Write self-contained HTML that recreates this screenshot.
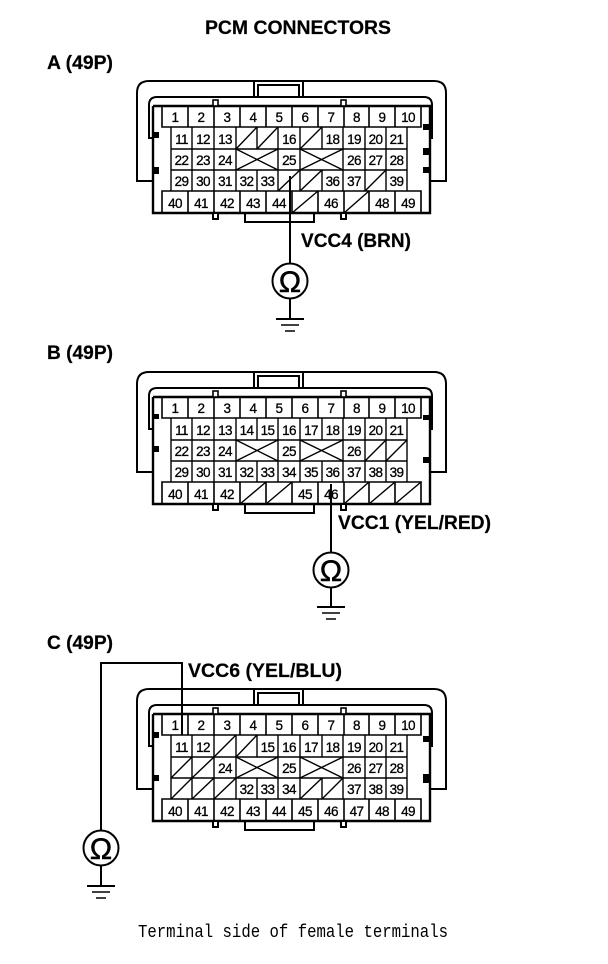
<!DOCTYPE html>
<html><head><meta charset="utf-8"><style>
html,body{margin:0;padding:0;background:#fff}
svg{display:block}
text{font-family:"Liberation Sans",sans-serif;fill:#000}
.n{transform:translateY(1px)}
.n text{font-size:13.5px;letter-spacing:-.6px;text-anchor:middle;stroke:#000;stroke-width:.3}
.l{font-weight:bold;font-size:19px;stroke:#000;stroke-width:.2}
.o{font-size:30px;text-anchor:middle;stroke:#000;stroke-width:.5}
</style></head><body>
<svg width="608" height="964" viewBox="0 0 608 964" xmlns="http://www.w3.org/2000/svg">
<defs>
<g id="shell" fill="none" stroke="#000">
<path stroke-width="2" d="M152 181H137V93Q137 81 149 81H434Q446 81 446 93V181H430"/>
<path stroke-width="2" d="M153 138H149V105Q149 97 157 97H424Q432 97 432 105V138H429"/>
<path stroke-width="2" d="M254 96V81H303V96M258 96V85H299V96"/>
<path stroke-width="2.4" d="M153 106V213H430V106H153"/>
<path stroke-width="2" d="M245 213V222H314V213"/>
<path stroke-width="1.6" d="M162 106V127H421V106M188 106V127M214 106V127M240 106V127M266 106V127M292 106V127M318 106V127M344 106V127M369 106V127M395 106V127"/>
<path stroke-width="1.6" d="M162 213V191H421V213M188 191V213M214 191V213M240 191V213M266 191V213M292 191V213M318 191V213M344 191V213M369 191V213M395 191V213"/>
<path stroke-width="1.4" d="M171 127V191M407 127V191M171 149H407M171 170H407M192 127V191M214 127V191M236 127V191M257 127V149M257 170V191M278 127V191M300 127V191M322 127V149M322 170V191M343 127V191M365 127V191M386 127V191"/>
<path stroke-width="1.4" d="M236 149L278 170M236 170L278 149M300 149L343 170M300 170L343 149"/>
<rect x="213" y="100" width="5" height="6" stroke-width="1.6" fill="#fff"/>
<rect x="341" y="100" width="5" height="6" stroke-width="1.6" fill="#fff"/>
<rect x="213" y="213" width="5" height="6" stroke-width="2" fill="#fff"/>
<rect x="341" y="213" width="5" height="6" stroke-width="2" fill="#fff"/>
</g>
<g id="gnd" fill="none" stroke="#000">
<path stroke-width="2" d="M-14 0H14"/>
<path stroke-width="1.5" d="M-9 6H9M-5 12H5"/>
</g>
</defs>

<text class="l" x="205" y="34" textLength="186" lengthAdjust="spacingAndGlyphs">PCM CONNECTORS</text>
<text class="l" x="47" y="69" textLength="66" lengthAdjust="spacingAndGlyphs">A (49P)</text>
<text class="l" x="47" y="359" textLength="66" lengthAdjust="spacingAndGlyphs">B (49P)</text>
<text class="l" x="47" y="649" textLength="66" lengthAdjust="spacingAndGlyphs">C (49P)</text>
<text class="l" x="301" y="247" textLength="110" lengthAdjust="spacingAndGlyphs">VCC4 (BRN)</text>
<text class="l" x="338" y="529" textLength="153" lengthAdjust="spacingAndGlyphs">VCC1 (YEL/RED)</text>
<text class="l" x="188" y="677" textLength="154" lengthAdjust="spacingAndGlyphs">VCC6 (YEL/BLU)</text>
<text x="138" y="937" textLength="310" lengthAdjust="spacingAndGlyphs" style="font-family:'Liberation Mono',monospace;font-size:18px">Terminal side of female terminals</text>

<!-- A -->
<use href="#shell"/>
<g fill="#000">
<rect x="153" y="132" width="6" height="6"/><rect x="153" y="167" width="6" height="7"/>
<rect x="423" y="124" width="6" height="6"/><rect x="423" y="148" width="6" height="7"/><rect x="423" y="167" width="6" height="6"/>
</g>
<path fill="none" stroke="#000" stroke-width="1.4" d="M236 149L257 127M257 149L278 127M300 149L322 127M278 191L300 170M300 191L322 170M365 191L386 170M292 213L318 191M344 213L369 191"/>
<g class="n">
<text x="175" y="121">1</text><text x="201" y="121">2</text><text x="227" y="121">3</text><text x="253" y="121">4</text><text x="279" y="121">5</text><text x="305" y="121">6</text><text x="331" y="121">7</text><text x="356.5" y="121">8</text><text x="382" y="121">9</text><text x="408" y="121">10</text>
<text x="181.5" y="143">11</text><text x="203" y="143">12</text><text x="225" y="143">13</text><text x="289" y="143">16</text><text x="332.5" y="143">18</text><text x="354" y="143">19</text><text x="375.5" y="143">20</text><text x="396.5" y="143">21</text>
<text x="181.5" y="164">22</text><text x="203" y="164">23</text><text x="225" y="164">24</text><text x="289" y="164">25</text><text x="354" y="164">26</text><text x="375.5" y="164">27</text><text x="396.5" y="164">28</text>
<text x="181.5" y="185">29</text><text x="203" y="185">30</text><text x="225" y="185">31</text><text x="246.5" y="185">32</text><text x="267.5" y="185">33</text><text x="332.5" y="185">36</text><text x="354" y="185">37</text><text x="396.5" y="185">39</text>
<text x="175" y="207">40</text><text x="201" y="207">41</text><text x="227" y="207">42</text><text x="253" y="207">43</text><text x="279" y="207">44</text><text x="331" y="207">46</text><text x="382" y="207">48</text><text x="408" y="207">49</text>
</g>
<path fill="none" stroke="#000" stroke-width="2" d="M290 176V263M290 299V319"/>
<circle cx="290" cy="281" r="17.5" fill="#fff" stroke="#000" stroke-width="2"/>
<text class="o" x="290" y="292">Ω</text>
<use href="#gnd" x="290" y="319"/>

<!-- B -->
<use href="#shell" y="291"/>
<g fill="#000">
<rect x="153" y="414" width="6" height="5"/><rect x="153" y="446" width="6" height="6"/>
<rect x="423" y="415" width="6" height="5"/><rect x="423" y="457" width="6" height="6"/>
</g>
<path fill="none" stroke="#000" stroke-width="1.4" d="M365 461L386 440M386 461L407 440M240 504L266 482M266 504L292 482M344 504L369 482M369 504L395 482M395 504L421 482"/>
<g class="n">
<text x="175" y="412">1</text><text x="201" y="412">2</text><text x="227" y="412">3</text><text x="253" y="412">4</text><text x="279" y="412">5</text><text x="305" y="412">6</text><text x="331" y="412">7</text><text x="356.5" y="412">8</text><text x="382" y="412">9</text><text x="408" y="412">10</text>
<text x="181.5" y="434">11</text><text x="203" y="434">12</text><text x="225" y="434">13</text><text x="246.5" y="434">14</text><text x="267.5" y="434">15</text><text x="289" y="434">16</text><text x="311" y="434">17</text><text x="332.5" y="434">18</text><text x="354" y="434">19</text><text x="375.5" y="434">20</text><text x="396.5" y="434">21</text>
<text x="181.5" y="455">22</text><text x="203" y="455">23</text><text x="225" y="455">24</text><text x="289" y="455">25</text><text x="354" y="455">26</text>
<text x="181.5" y="476">29</text><text x="203" y="476">30</text><text x="225" y="476">31</text><text x="246.5" y="476">32</text><text x="267.5" y="476">33</text><text x="289" y="476">34</text><text x="311" y="476">35</text><text x="332.5" y="476">36</text><text x="354" y="476">37</text><text x="375.5" y="476">38</text><text x="396.5" y="476">39</text>
<text x="175" y="498">40</text><text x="201" y="498">41</text><text x="227" y="498">42</text><text x="305" y="498">45</text><text x="331" y="498">46</text>
</g>
<path fill="none" stroke="#000" stroke-width="2" d="M331 484V552M331 588V607"/>
<circle cx="331" cy="570" r="17.5" fill="#fff" stroke="#000" stroke-width="2"/>
<text class="o" x="331" y="581">Ω</text>
<use href="#gnd" x="331" y="607"/>

<!-- C -->
<use href="#shell" y="608"/>
<g fill="#000">
<rect x="153" y="732" width="6" height="6"/><rect x="153" y="775" width="6" height="6"/>
<rect x="423" y="736" width="6" height="6"/><rect x="423" y="774" width="6" height="9"/>
</g>
<path fill="none" stroke="#000" stroke-width="1.4" d="M214 757L236 735M236 757L257 735M171 778L192 757M192 778L214 757M171 799L192 778M192 799L214 778M214 799L236 778M300 799L322 778M322 799L343 778"/>
<g class="n">
<text x="175" y="729">1</text><text x="201" y="729">2</text><text x="227" y="729">3</text><text x="253" y="729">4</text><text x="279" y="729">5</text><text x="305" y="729">6</text><text x="331" y="729">7</text><text x="356.5" y="729">8</text><text x="382" y="729">9</text><text x="408" y="729">10</text>
<text x="181.5" y="751">11</text><text x="203" y="751">12</text><text x="267.5" y="751">15</text><text x="289" y="751">16</text><text x="311" y="751">17</text><text x="332.5" y="751">18</text><text x="354" y="751">19</text><text x="375.5" y="751">20</text><text x="396.5" y="751">21</text>
<text x="225" y="772">24</text><text x="289" y="772">25</text><text x="354" y="772">26</text><text x="375.5" y="772">27</text><text x="396.5" y="772">28</text>
<text x="246.5" y="793">32</text><text x="267.5" y="793">33</text><text x="289" y="793">34</text><text x="354" y="793">37</text><text x="375.5" y="793">38</text><text x="396.5" y="793">39</text>
<text x="175" y="815">40</text><text x="201" y="815">41</text><text x="227" y="815">42</text><text x="253" y="815">43</text><text x="279" y="815">44</text><text x="305" y="815">45</text><text x="331" y="815">46</text><text x="356.5" y="815">47</text><text x="382" y="815">48</text><text x="408" y="815">49</text>
</g>
<path fill="none" stroke="#000" stroke-width="2" d="M182 735V663H101V830M101 866V886"/>
<circle cx="101" cy="848" r="17.5" fill="#fff" stroke="#000" stroke-width="2"/>
<text class="o" x="101" y="859">Ω</text>
<use href="#gnd" x="101" y="886"/>
</svg>
</body></html>
